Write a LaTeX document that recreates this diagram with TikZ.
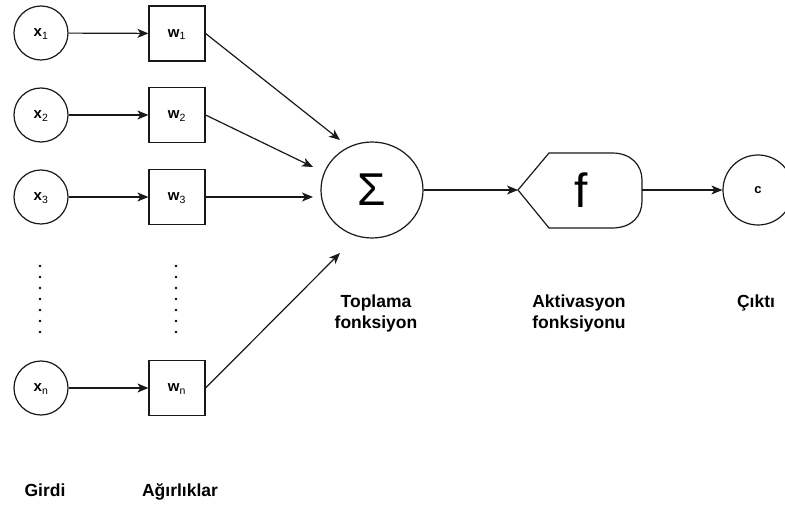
\documentclass[tikz,border=0pt]{standalone}
\usepackage{fontspec}
\setmainfont{Liberation Sans}
\usetikzlibrary{arrows.meta,shapes.geometric}
\begin{document}
\begin{tikzpicture}[x=1pt,y=-1pt,
  wire/.style={line width=1.2pt,draw=black!90},
  arr/.style={wire,-{Stealth[length=11pt,width=9pt,inset=3pt]}},
  innode/.style={circle,draw=black!90,line width=1.2pt,minimum size=54pt,inner sep=0pt,
    text depth=0pt,font=\bfseries\fontsize{15}{17}\selectfont},
  wnode/.style={rectangle,draw=black!90,line width=1.2pt,minimum width=56pt,minimum height=55pt,
    inner sep=0pt,text depth=0pt,font=\bfseries\fontsize{15}{17}\selectfont},
  sumnode/.style={ellipse,draw=black!90,line width=1.2pt,minimum width=102pt,minimum height=96pt,
    inner sep=0pt,font=\fontsize{46}{50}\selectfont},
  outnode/.style={circle,draw=black!90,line width=1.2pt,minimum size=70pt,inner sep=0pt,
    font=\bfseries\fontsize{13}{15}\selectfont},
  caption/.style={align=center,font=\bfseries\fontsize{17.5}{21}\selectfont},
  dotmark/.style={fill=black},
]
\useasboundingbox (0,0) rectangle (785,505);

% inputs and weights
\node[innode] (x1) at (41,33)  {x\textsubscript{\mdseries 1}};
\node[innode] (x2) at (41,115) {x\textsubscript{\mdseries 2}};
\node[innode] (x3) at (41,197) {x\textsubscript{\mdseries 3}};
\node[innode] (xn) at (41,388) {x\textsubscript{\mdseries n}};

\node[wnode] (w1) at (177,33.5) {w\textsubscript{\mdseries 1}};
\node[wnode] (w2) at (177,115)  {w\textsubscript{\mdseries 2}};
\node[wnode] (w3) at (177,197)  {w\textsubscript{\mdseries 3}};
\node[wnode] (wn) at (177,388)  {w\textsubscript{\mdseries n}};

% vertical ellipsis between the third and the last row
\foreach \yy in {266,277,...,332} {
  \fill[dotmark] (40,\yy) circle (1.4);
  \fill[dotmark] (176,\yy) circle (1.4);
}

% summation
\node[sumnode] (sum) at (372,190) {Σ};
\coordinate (s1) at (340,140);
\coordinate (s2) at (313,167);
\coordinate (s3) at (313,197);
\coordinate (sn) at (340,253);

% activation function shape
\draw[wire] (518,190) -- (549,153) -- (612,153)
  .. controls (632,153) and (642,166) .. (642,180) -- (642,201)
  .. controls (642,216) and (632,228) .. (612,228) -- (549,228) -- cycle;
\node[font=\fontsize{48}{52}\selectfont] (f) at (581,190) {f};
\coordinate (fin) at (518,190);
\coordinate (fout) at (642,190);

% output
\node[outnode] (c) at (758,190) {c};

% connectors
\draw[arr] (x1) -- (w1);
\draw[arr] (x2) -- (w2);
\draw[arr] (x3) -- (w3);
\draw[arr] (xn) -- (wn);
\draw[arr] (w1.east) -- (s1);
\draw[arr] (w2.east) -- (s2);
\draw[arr] (w3.east) -- (s3);
\draw[arr] (wn.east) -- (sn);
\draw[arr] (sum.east) -- (fin);
\draw[arr] (fout) -- (c.west);

% captions
\node[caption] (lsum) at (376,313) {Toplama\\fonksiyon};
\node[caption] (lact) at (579,313) {Aktivasyon\\fonksiyonu};
\node[caption,anchor=base] (lout) at (756,308) {Çıktı};
\node[caption,anchor=base] (lin) at (45,496) {Girdi};
\node[caption,anchor=base] (lw) at (180,496) {Ağırlıklar};
\end{tikzpicture}
\end{document}
